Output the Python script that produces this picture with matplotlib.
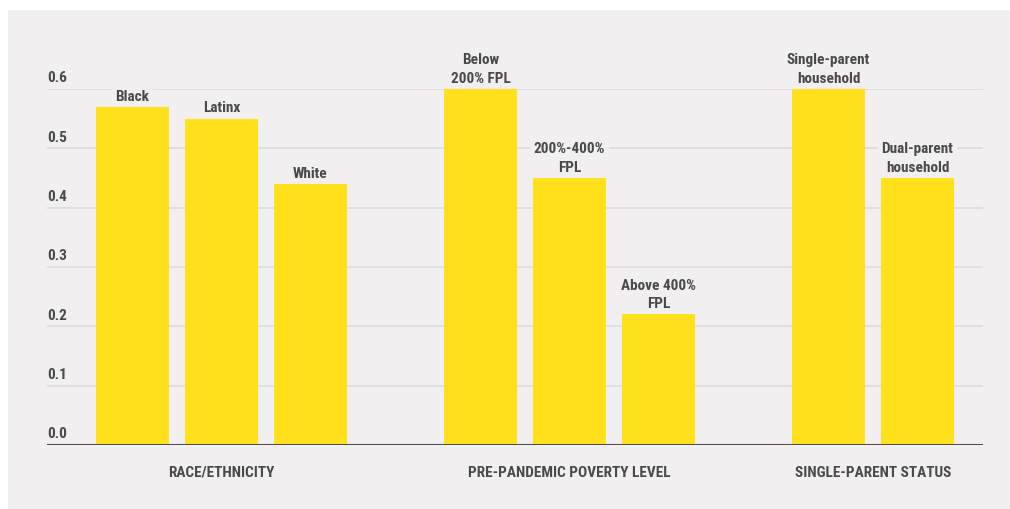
import matplotlib
matplotlib.use("Agg")
import matplotlib.pyplot as plt
from matplotlib.patches import Rectangle
import matplotlib.transforms as mtransforms
from matplotlib import font_manager

# data
groups = ["RACE/ETHNICITY", "PRE-PANDEMIC POVERTY LEVEL", "SINGLE-PARENT STATUS"]
bar_labels = [
    ["Black", "Latinx", "White"],
    ["Below\n200% FPL", "200%-400%\nFPL", "Above 400%\nFPL"],
    ["Single-parent\nhousehold", "Dual-parent\nhousehold"],
]
bar_values = [
    [0.57, 0.55, 0.44],
    [0.60, 0.45, 0.22],
    [0.60, 0.45],
]
yticks = [0.0, 0.1, 0.2, 0.3, 0.4, 0.5, 0.6]

# condensed bold font if one is around
names = {f.name for f in font_manager.fontManager.ttflist}
narrow = [n for n in ["Roboto Condensed", "Liberation Sans Narrow", "DejaVu Sans Condensed"] if n in names]
plt.rcParams['font.family'] = narrow + ['DejaVu Sans']
plt.rcParams['font.weight'] = 'bold'
plt.rcParams['font.stretch'] = 'condensed'

panel = "#f1eff0"
yellow = "#ffe01b"
txt = "#4a4a4a"

fig = plt.figure(figsize=(10.1, 5.1), dpi=100, facecolor="white")
fig.patches.append(Rectangle((8 / 1010, 0), 1, 1 - 11 / 510, transform=fig.transFigure,
                             facecolor=panel, edgecolor="none", zorder=-10))

ax = fig.add_axes([47 / 1010, 64 / 510, (983 - 47) / 1010, (446 - 90) / 510])
ax.set_facecolor("none")

gap = 0.91
x = 0.0
for g, (name, labels, vals) in enumerate(zip(groups, bar_labels, bar_values)):
    xs = [x + i for i in range(len(vals))]
    ax.bar(xs, vals, width=0.82, color=yellow, zorder=3)
    for xi, v, lab in zip(xs, vals, labels):
        ax.annotate(lab, (xi, v), xytext=(0, 3), textcoords="offset points",
                    ha="center", va="bottom", fontsize=11, color=txt,
                    linespacing=1.4, zorder=2, annotation_clip=False,
                    bbox=dict(boxstyle="square,pad=0.25", fc=panel, ec="none"))
    center = (xs[0] + xs[-1]) / 2
    ax.text(center, -0.045, name, ha="center", va="center", fontsize=11,
            color=txt, clip_on=False)
    x = xs[-1] + 1 + gap

ax.set_xlim(-0.96, 9.556)
ax.set_ylim(0, 0.6)

trans = mtransforms.blended_transform_factory(ax.transAxes, ax.transData)
for t in yticks:
    if t > 0:
        ax.axhline(t, color="#dcdadb", lw=1.2, zorder=1)
    ax.text(0, t + 0.008, f"{t:.1f}", transform=trans, ha="left", va="bottom",
            fontsize=11, color=txt, zorder=2, clip_on=False)
ax.axhline(0, color="#4f4f4f", lw=2.2, zorder=5)

ax.set_xticks([])
ax.set_yticks([])
for s in ax.spines.values():
    s.set_visible(False)

fig.savefig("out.png", dpi=100, facecolor=fig.get_facecolor())
